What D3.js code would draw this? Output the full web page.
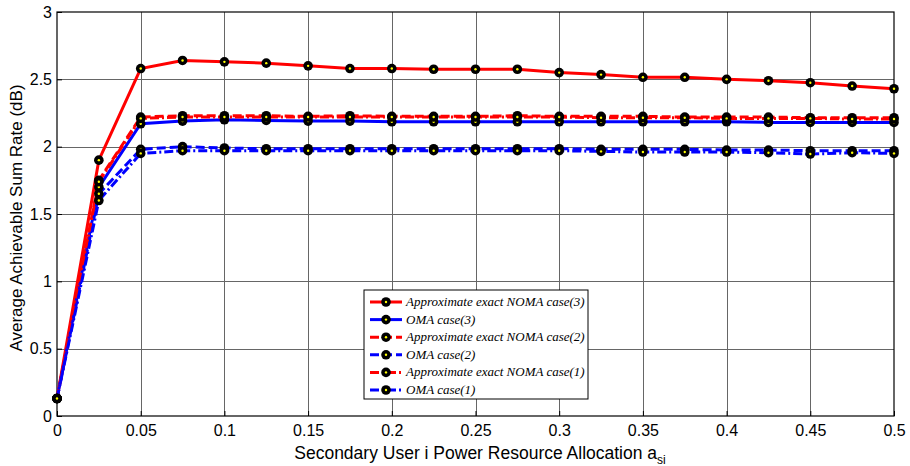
<!DOCTYPE html>
<html>
<head>
<meta charset="utf-8">
<script src="https://cdn.jsdelivr.net/npm/d3@7"></script>
<style>
  body { margin: 0; background: #fff; }
  svg { display: block; }
</style>
</head>
<body>
<div id="chart"></div>
<script>
const xValues = [0, 0.025, 0.05, 0.075, 0.1, 0.125, 0.15, 0.175, 0.2, 0.225, 0.25,
  0.275, 0.3, 0.325, 0.35, 0.375, 0.4, 0.425, 0.45, 0.475, 0.5];
const noma3 = [0.13, 1.90, 2.58, 2.64, 2.63, 2.62, 2.60, 2.58, 2.58, 2.575, 2.575,
  2.575, 2.55, 2.535, 2.515, 2.515, 2.50, 2.49, 2.475, 2.45, 2.43];
const oma3 = [0.13, 1.70, 2.17, 2.19, 2.20, 2.195, 2.19, 2.19, 2.185, 2.185, 2.185,
  2.185, 2.185, 2.185, 2.185, 2.185, 2.185, 2.18, 2.18, 2.18, 2.18];
const noma2 = [0.13, 1.75, 2.22, 2.23, 2.23, 2.23, 2.225, 2.23, 2.225, 2.225, 2.225,
  2.23, 2.225, 2.225, 2.225, 2.22, 2.22, 2.22, 2.215, 2.215, 2.215];
const oma2 = [0.13, 1.65, 1.98, 2.00, 1.99, 1.985, 1.985, 1.985, 1.985, 1.985, 1.985,
  1.985, 1.985, 1.98, 1.98, 1.98, 1.975, 1.975, 1.97, 1.97, 1.97];
const noma1 = [0.13, 1.74, 2.21, 2.22, 2.22, 2.22, 2.22, 2.22, 2.22, 2.22, 2.22,
  2.22, 2.22, 2.215, 2.215, 2.215, 2.21, 2.21, 2.21, 2.205, 2.205];
const oma1 = [0.13, 1.60, 1.95, 1.97, 1.97, 1.97, 1.97, 1.97, 1.97, 1.97, 1.97,
  1.97, 1.97, 1.965, 1.96, 1.96, 1.96, 1.955, 1.945, 1.955, 1.95];
const xTicks = [0, 0.05, 0.1, 0.15, 0.2, 0.25, 0.3, 0.35, 0.4, 0.45, 0.5];
const yTicks = [0, 0.5, 1, 1.5, 2, 2.5, 3];

const series = [
  { name: 'Approximate exact NOMA case(3)', values: noma3, color: '#ff0000', dash: null },
  { name: 'OMA case(3)', values: oma3, color: '#0000ff', dash: null },
  { name: 'Approximate exact NOMA case(2)', values: noma2, color: '#ff0000', dash: '9,4' },
  { name: 'OMA case(2)', values: oma2, color: '#0000ff', dash: '9,4' },
  { name: 'Approximate exact NOMA case(1)', values: noma1, color: '#ff0000', dash: '9,3,2,3' },
  { name: 'OMA case(1)', values: oma1, color: '#0000ff', dash: '9,3,2,3' }
];

const width = 910, height = 466;
const margin = { top: 12, right: 16, bottom: 50, left: 57 };

const svg = d3.select('#chart').append('svg')
  .attr('width', width)
  .attr('height', height);

const x = d3.scaleLinear().domain([0, 0.5]).range([margin.left, width - margin.right]);
const y = d3.scaleLinear().domain([0, 3]).range([height - margin.bottom, margin.top]);

// grid
const grid = svg.append('g').attr('stroke', '#666').attr('stroke-width', 1);
xTicks.slice(1, -1).forEach(t => {
  grid.append('line')
    .attr('x1', Math.round(x(t)) + 0.5).attr('x2', Math.round(x(t)) + 0.5)
    .attr('y1', y(3)).attr('y2', y(0));
});
yTicks.slice(1, -1).forEach(t => {
  grid.append('line')
    .attr('x1', x(0)).attr('x2', x(0.5))
    .attr('y1', Math.round(y(t)) + 0.5).attr('y2', Math.round(y(t)) + 0.5);
});

// axes
const fmt = d => d3.format('')(d);
const xAxis = svg.append('g')
  .attr('transform', `translate(0,${y(0)})`)
  .call(d3.axisBottom(x).tickValues(xTicks).tickFormat(fmt).tickSizeInner(-5).tickSizeOuter(0).tickPadding(9));
const yAxis = svg.append('g')
  .attr('transform', `translate(${x(0)},0)`)
  .call(d3.axisLeft(y).tickValues(yTicks).tickFormat(fmt).tickSizeInner(-5).tickSizeOuter(0).tickPadding(5));
[xAxis, yAxis].forEach(a => {
  a.selectAll('text').attr('font-family', 'Liberation Sans, Arial, sans-serif')
    .attr('font-size', 16).attr('fill', '#000');
  a.selectAll('line').attr('stroke', '#000');
  a.select('.domain').remove();
});

svg.append('rect')
  .attr('x', x(0)).attr('y', y(3))
  .attr('width', x(0.5) - x(0)).attr('height', y(0) - y(3))
  .attr('fill', 'none').attr('stroke', '#000').attr('stroke-width', 1.2);

// lines
const line = d3.line().x((d, i) => x(xValues[i])).y(d => y(d));
const plot = svg.append('g');
series.forEach(s => {
  plot.append('path')
    .datum(s.values)
    .attr('d', line)
    .attr('fill', 'none')
    .attr('stroke', s.color)
    .attr('stroke-width', 3)
    .attr('stroke-dasharray', s.dash);
});
series.forEach(s => {
  const g = plot.append('g');
  g.selectAll('circle.m').data(s.values).enter().append('circle')
    .attr('cx', (d, i) => x(xValues[i])).attr('cy', d => y(d))
    .attr('r', 4.8).attr('fill', '#000');
  g.selectAll('circle.c').data(s.values).enter().append('circle')
    .attr('cx', (d, i) => x(xValues[i])).attr('cy', d => y(d))
    .attr('r', 1.2).attr('fill', '#ffff00');
});

// legend
const legend = svg.append('g').attr('transform', 'translate(364,290)');
legend.append('rect')
  .attr('width', 224).attr('height', 109)
  .attr('fill', '#fff').attr('stroke', '#000').attr('stroke-width', 1);
series.forEach((s, i) => {
  const yy = 12 + i * 17.6;
  legend.append('line')
    .attr('x1', 6).attr('x2', 38).attr('y1', yy).attr('y2', yy)
    .attr('stroke', s.color).attr('stroke-width', 3)
    .attr('stroke-dasharray', s.dash);
  legend.append('circle').attr('cx', 22).attr('cy', yy).attr('r', 4.8).attr('fill', '#000');
  legend.append('circle').attr('cx', 22).attr('cy', yy).attr('r', 1.2).attr('fill', '#ffff00');
  legend.append('text')
    .attr('x', 42).attr('y', yy + 4)
    .attr('font-family', 'Liberation Serif, Times New Roman, serif')
    .attr('font-style', 'italic').attr('font-size', 13)
    .text(s.name);
});

// axis labels
const xl = svg.append('text')
  .attr('x', 480).attr('y', 459)
  .attr('text-anchor', 'middle')
  .attr('font-family', 'Liberation Sans, Arial, sans-serif')
  .attr('font-size', 17.5);
xl.append('tspan').text('Secondary User i Power Resource Allocation a');
xl.append('tspan').attr('font-size', 12).attr('dy', 5).text('si');

svg.append('text')
  .attr('transform', `translate(22,${(y(0) + y(3)) / 2 + 4}) rotate(-90)`)
  .attr('text-anchor', 'middle')
  .attr('font-family', 'Liberation Sans, Arial, sans-serif')
  .attr('font-size', 17)
  .text('Average Achievable Sum Rate (dB)');
</script>
</body>
</html>
